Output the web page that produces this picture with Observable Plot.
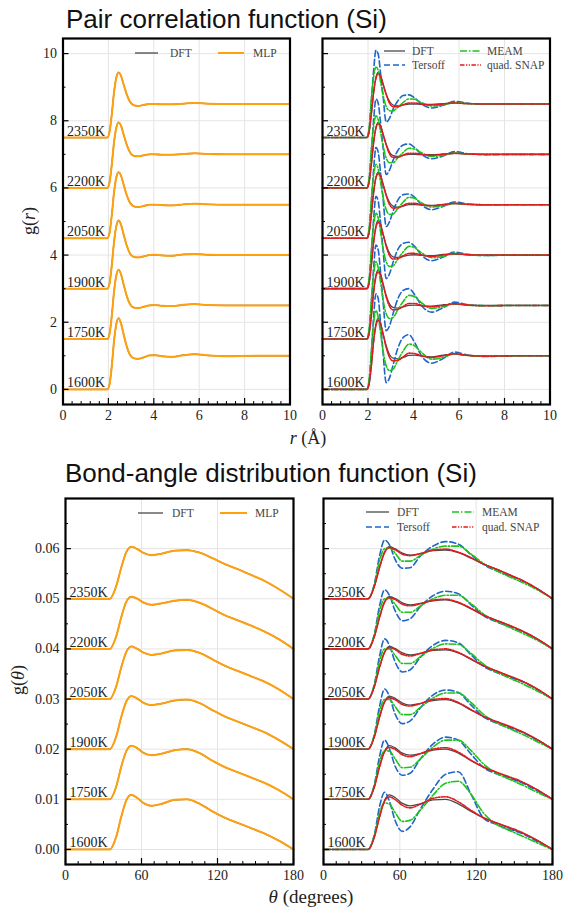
<!DOCTYPE html>
<html><head><meta charset="utf-8">
<script src="https://cdn.jsdelivr.net/npm/d3@7"></script>
<script src="https://cdn.jsdelivr.net/npm/@observablehq/plot@0.6"></script>
<style>
body{margin:0;background:#fff;}
#wrap{position:relative;width:565px;height:909px;overflow:hidden;background:#fff;}
#wrap > svg{position:absolute;}
</style></head><body><div id="wrap"></div>
<script>
// ---------- data ----------
const temps = ["1600K","1750K","1900K","2050K","2200K","2350K"];
const grOffsets = [0, 1.5, 3, 4.5, 6, 7.5];
const gtOffsets = [0, 0.01, 0.02, 0.03, 0.04, 0.05];

const rGrid = [0,1.95,2.05,2.15,2.25,2.35,2.45,2.55,2.65,2.8,2.95,3.1,3.3,3.55,3.8,4.05,4.35,4.8,5.3,5.8,6.4,7.2,8.5,10];
const grDFT = [
 [0,0,0.15,0.7,1.45,1.95,2.12,1.98,1.7,1.3,1.03,0.93,0.91,0.95,1.01,1.02,0.99,0.97,1.02,1.05,1.01,0.99,1.0,1.0],
 [0,0,0.15,0.7,1.42,1.9,2.06,1.94,1.68,1.3,1.04,0.94,0.92,0.96,1.0,1.01,0.99,0.98,1.02,1.04,1.01,1.0,1.0,1.0],
 [0,0,0.16,0.7,1.4,1.87,2.03,1.92,1.67,1.3,1.05,0.95,0.93,0.96,1.0,1.01,0.99,0.98,1.02,1.03,1.01,1.0,1.0,1.0],
 [0,0,0.16,0.7,1.38,1.82,1.97,1.88,1.65,1.3,1.06,0.96,0.93,0.96,1.0,1.0,0.99,0.98,1.01,1.03,1.01,1.0,1.0,1.0],
 [0,0,0.16,0.7,1.37,1.8,1.95,1.86,1.64,1.3,1.06,0.96,0.94,0.97,1.0,1.0,0.99,0.99,1.01,1.03,1.01,1.0,1.0,1.0],
 [0,0,0.17,0.7,1.36,1.79,1.94,1.85,1.63,1.3,1.07,0.97,0.94,0.97,1.0,1.0,0.99,0.99,1.01,1.03,1.01,1.0,1.0,1.0]];
const grMLP = [
 [0,0,0.15,0.7,1.45,1.95,2.12,1.98,1.7,1.3,1.03,0.93,0.91,0.95,1.01,1.02,0.99,0.97,1.02,1.05,1.01,0.99,1.0,1.0],
 [0,0,0.15,0.7,1.42,1.9,2.06,1.94,1.68,1.3,1.04,0.94,0.92,0.96,1.0,1.01,0.99,0.98,1.02,1.04,1.01,1.0,1.0,1.0],
 [0,0,0.16,0.7,1.4,1.87,2.03,1.92,1.67,1.3,1.05,0.95,0.93,0.96,1.0,1.01,0.99,0.98,1.02,1.03,1.01,1.0,1.0,1.0],
 [0,0,0.16,0.7,1.38,1.82,1.97,1.88,1.65,1.3,1.06,0.96,0.93,0.96,1.0,1.0,0.99,0.98,1.01,1.03,1.01,1.0,1.0,1.0],
 [0,0,0.16,0.7,1.37,1.8,1.95,1.86,1.64,1.3,1.06,0.96,0.94,0.97,1.0,1.0,0.99,0.99,1.01,1.03,1.01,1.0,1.0,1.0],
 [0,0,0.17,0.7,1.36,1.79,1.94,1.85,1.63,1.3,1.07,0.97,0.94,0.97,1.0,1.0,0.99,0.99,1.01,1.03,1.01,1.0,1.0,1.0]];
const grTersoff = [
 [0,0,0.25,1.1,2.2,2.85,2.7,2.0,1.2,0.2,0.35,0.72,1.2,1.55,1.63,1.4,1.0,0.78,0.92,1.11,1.02,0.98,1.0,1.0],
 [0,0,0.25,1.1,2.15,2.8,2.65,2.0,1.22,0.25,0.4,0.75,1.18,1.45,1.5,1.32,1.0,0.8,0.93,1.1,1.02,0.99,1.0,1.0],
 [0,0,0.25,1.1,2.1,2.75,2.6,1.98,1.25,0.3,0.45,0.78,1.15,1.35,1.38,1.26,1.0,0.83,0.94,1.09,1.02,0.99,1.0,1.0],
 [0,0,0.25,1.1,2.08,2.7,2.56,1.96,1.27,0.35,0.5,0.8,1.12,1.3,1.32,1.22,1.0,0.85,0.95,1.08,1.02,0.99,1.0,1.0],
 [0,0,0.25,1.1,2.05,2.65,2.52,1.95,1.3,0.4,0.54,0.82,1.1,1.28,1.31,1.2,1.0,0.87,0.95,1.08,1.02,0.99,1.0,1.0],
 [0,0,0.25,1.1,2.02,2.6,2.48,1.93,1.32,0.46,0.58,0.84,1.08,1.25,1.27,1.18,1.0,0.88,0.96,1.08,1.02,0.99,1.0,1.0]];
const grMEAM = [
 [0,0,0.3,1.2,2.0,2.35,2.15,1.7,1.2,0.7,0.56,0.6,0.85,1.15,1.35,1.3,1.1,0.9,0.95,1.06,1.01,0.99,1.0,1.0],
 [0,0,0.3,1.2,1.95,2.3,2.12,1.7,1.22,0.75,0.61,0.64,0.86,1.12,1.3,1.26,1.08,0.91,0.96,1.05,1.01,0.99,1.0,1.0],
 [0,0,0.3,1.2,1.92,2.25,2.1,1.7,1.25,0.8,0.66,0.68,0.87,1.1,1.26,1.22,1.07,0.92,0.96,1.05,1.01,0.99,1.0,1.0],
 [0,0,0.3,1.2,1.88,2.2,2.06,1.68,1.27,0.85,0.71,0.72,0.88,1.08,1.22,1.19,1.06,0.93,0.97,1.04,1.01,1.0,1.0,1.0],
 [0,0,0.3,1.2,1.85,2.15,2.03,1.67,1.29,0.89,0.75,0.75,0.89,1.06,1.18,1.16,1.05,0.94,0.97,1.04,1.01,1.0,1.0,1.0],
 [0,0,0.3,1.2,1.82,2.1,2.0,1.66,1.3,0.92,0.8,0.79,0.9,1.05,1.15,1.14,1.04,0.94,0.97,1.04,1.01,1.0,1.0,1.0]];
const grSNAP = [
 [0,0,0.18,0.75,1.45,1.9,2.05,1.95,1.68,1.25,0.95,0.85,0.86,0.97,1.08,1.07,1.0,0.95,1.0,1.06,1.01,0.99,1.0,1.0],
 [0,0,0.18,0.75,1.42,1.86,2.0,1.92,1.66,1.25,0.97,0.87,0.88,0.97,1.06,1.06,1.0,0.96,1.0,1.05,1.01,0.99,1.0,1.0],
 [0,0,0.18,0.75,1.4,1.83,1.97,1.9,1.65,1.26,0.98,0.88,0.89,0.98,1.05,1.05,1.0,0.96,1.0,1.04,1.01,1.0,1.0,1.0],
 [0,0,0.18,0.75,1.38,1.8,1.93,1.86,1.63,1.27,1.0,0.9,0.9,0.98,1.04,1.04,1.0,0.97,1.0,1.04,1.01,1.0,1.0,1.0],
 [0,0,0.18,0.75,1.37,1.78,1.91,1.84,1.62,1.28,1.01,0.91,0.91,0.98,1.03,1.03,1.0,0.97,1.0,1.03,1.01,1.0,1.0,1.0],
 [0,0,0.18,0.75,1.36,1.76,1.9,1.83,1.61,1.28,1.02,0.92,0.92,0.98,1.03,1.03,1.0,0.97,1.0,1.03,1.01,1.0,1.0,1.0]];

const tGrid = [0,35,40,44,48,52,56,62,68,76,86,96,106,116,126,136,146,156,168,180];
const gtDFT = [
 [0,0,0.0025,0.0065,0.0098,0.0109,0.0104,0.0092,0.0087,0.0091,0.0099,0.0100,0.0091,0.0076,0.0063,0.0053,0.0043,0.0033,0.0018,0],
 [0,0,0.0025,0.0065,0.0096,0.0107,0.0103,0.0092,0.0088,0.0091,0.0098,0.0100,0.0092,0.0077,0.0064,0.0054,0.0044,0.0034,0.0019,0],
 [0,0,0.0025,0.0064,0.0095,0.0106,0.0102,0.0092,0.0088,0.0091,0.0097,0.0099,0.0092,0.0078,0.0065,0.0055,0.0045,0.0035,0.0019,0],
 [0,0,0.0025,0.0063,0.0094,0.0105,0.0101,0.0092,0.0088,0.0091,0.0097,0.0098,0.0092,0.0079,0.0066,0.0056,0.0046,0.0036,0.0020,0],
 [0,0,0.0025,0.0063,0.0094,0.0104,0.0101,0.0092,0.0088,0.0091,0.0096,0.0098,0.0092,0.0080,0.0067,0.0057,0.0047,0.0036,0.0020,0],
 [0,0,0.0025,0.0062,0.0093,0.0104,0.0100,0.0091,0.0087,0.0090,0.0096,0.0097,0.0092,0.0081,0.0069,0.0059,0.0048,0.0037,0.0020,0]];
const gtMLP = [
 [0,0,0.0025,0.0065,0.0098,0.0109,0.0104,0.0092,0.0087,0.0091,0.0099,0.0100,0.0091,0.0076,0.0063,0.0053,0.0043,0.0033,0.0018,0],
 [0,0,0.0025,0.0065,0.0096,0.0107,0.0103,0.0092,0.0088,0.0091,0.0098,0.0100,0.0092,0.0077,0.0064,0.0054,0.0044,0.0034,0.0019,0],
 [0,0,0.0025,0.0064,0.0095,0.0106,0.0102,0.0092,0.0088,0.0091,0.0097,0.0099,0.0092,0.0078,0.0065,0.0055,0.0045,0.0035,0.0019,0],
 [0,0,0.0025,0.0063,0.0094,0.0105,0.0101,0.0092,0.0088,0.0091,0.0097,0.0098,0.0092,0.0079,0.0066,0.0056,0.0046,0.0036,0.0020,0],
 [0,0,0.0025,0.0063,0.0094,0.0104,0.0101,0.0092,0.0088,0.0091,0.0096,0.0098,0.0092,0.0080,0.0067,0.0057,0.0047,0.0036,0.0020,0],
 [0,0,0.0025,0.0062,0.0093,0.0104,0.0100,0.0091,0.0087,0.0090,0.0096,0.0097,0.0092,0.0081,0.0069,0.0059,0.0048,0.0037,0.0020,0]];
const gtTersoff = [
 [0,0,0.0030,0.0085,0.0114,0.0095,0.0060,0.0036,0.0045,0.0080,0.0120,0.0150,0.0155,0.0110,0.0062,0.0050,0.0040,0.0032,0.0016,0],
 [0,0,0.0030,0.0085,0.0118,0.0100,0.0068,0.0048,0.0052,0.0080,0.0110,0.0124,0.0118,0.0090,0.0063,0.0051,0.0042,0.0033,0.0017,0],
 [0,0,0.0030,0.0085,0.0120,0.0104,0.0072,0.0051,0.0056,0.0082,0.0108,0.0118,0.0113,0.0088,0.0064,0.0052,0.0043,0.0034,0.0018,0],
 [0,0,0.0030,0.0085,0.0120,0.0106,0.0076,0.0054,0.0058,0.0083,0.0107,0.0117,0.0112,0.0088,0.0065,0.0053,0.0044,0.0035,0.0019,0],
 [0,0,0.0030,0.0085,0.0118,0.0106,0.0078,0.0056,0.0060,0.0084,0.0106,0.0115,0.0110,0.0088,0.0066,0.0054,0.0045,0.0035,0.0019,0],
 [0,0,0.0030,0.0085,0.0117,0.0107,0.0080,0.0061,0.0062,0.0085,0.0105,0.0114,0.0109,0.0088,0.0068,0.0056,0.0046,0.0036,0.0020,0]];
const gtMEAM = [
 [0,0,0.0028,0.0072,0.0093,0.0090,0.0075,0.0056,0.0058,0.0078,0.0108,0.0132,0.0136,0.0110,0.0072,0.0050,0.0038,0.0027,0.0013,0],
 [0,0,0.0028,0.0074,0.0097,0.0096,0.0082,0.0063,0.0064,0.0080,0.0104,0.0118,0.0118,0.0097,0.0070,0.0052,0.0040,0.0029,0.0014,0],
 [0,0,0.0028,0.0075,0.0099,0.0099,0.0086,0.0069,0.0069,0.0083,0.0102,0.0112,0.0112,0.0093,0.0069,0.0053,0.0041,0.0030,0.0015,0],
 [0,0,0.0028,0.0075,0.0100,0.0100,0.0088,0.0071,0.0071,0.0084,0.0101,0.0110,0.0109,0.0091,0.0069,0.0054,0.0042,0.0031,0.0016,0],
 [0,0,0.0028,0.0075,0.0100,0.0101,0.0090,0.0073,0.0073,0.0085,0.0100,0.0107,0.0107,0.0090,0.0069,0.0055,0.0043,0.0032,0.0017,0],
 [0,0,0.0028,0.0075,0.0100,0.0102,0.0092,0.0075,0.0075,0.0086,0.0099,0.0105,0.0105,0.0089,0.0070,0.0056,0.0044,0.0033,0.0018,0]];
const gtSNAP = [
 [0,0,0.0025,0.0064,0.0096,0.0105,0.0100,0.0088,0.0083,0.0090,0.0102,0.0105,0.0095,0.0078,0.0063,0.0053,0.0044,0.0034,0.0018,0],
 [0,0,0.0025,0.0064,0.0095,0.0104,0.0100,0.0089,0.0085,0.0091,0.0100,0.0103,0.0094,0.0078,0.0064,0.0054,0.0045,0.0035,0.0019,0],
 [0,0,0.0025,0.0063,0.0094,0.0103,0.0099,0.0089,0.0086,0.0091,0.0099,0.0101,0.0093,0.0079,0.0065,0.0055,0.0046,0.0035,0.0019,0],
 [0,0,0.0025,0.0063,0.0093,0.0103,0.0099,0.0089,0.0086,0.0091,0.0098,0.0100,0.0093,0.0080,0.0066,0.0056,0.0046,0.0036,0.0020,0],
 [0,0,0.0025,0.0062,0.0093,0.0102,0.0099,0.0089,0.0086,0.0090,0.0097,0.0099,0.0093,0.0081,0.0067,0.0057,0.0047,0.0036,0.0020,0],
 [0,0,0.0025,0.0062,0.0092,0.0102,0.0098,0.0089,0.0086,0.0090,0.0097,0.0099,0.0093,0.0082,0.0069,0.0059,0.0048,0.0037,0.0020,0]];

const rTicks = [0,2,4,6,8,10];
const rMinor = [0.4,0.8,1.2,1.6,2.4,2.8,3.2,3.6,4.4,4.8,5.2,5.6,6.4,6.8,7.2,7.6,8.4,8.8,9.2,9.6];
const grTicks = [0,2,4,6,8,10];
const grMinor = [1,3,5,7,9];
const tTicks = [0,60,120,180];
const tMinor = [10,20,30,40,50,70,80,90,100,110,130,140,150,160,170];
const gtTicks = [0,0.01,0.02,0.03,0.04,0.05,0.06];
const gtMinor = [0.005,0.015,0.025,0.035,0.045,0.055,0.065];

// ---------- styles ----------
const ST = {
  DFT:     {stroke: "#4a4a4a", strokeWidth: 1.3},
  MLP:     {stroke: "#ffa00f", strokeWidth: 2.0},
  Tersoff: {stroke: "#1f66c8", strokeWidth: 1.6, strokeDasharray: "6,3"},
  MEAM:    {stroke: "#1cc41c", strokeWidth: 1.6, strokeDasharray: "7,2,1.5,2"},
  SNAP:    {stroke: "#e5191c", strokeWidth: 1.6, strokeDasharray: "4.5,1.5,1.2,1.5,1.2,1.5"}
};

function series(grid, rows, offsets) {
  return rows.flatMap((row, i) => row.map((v, j) => ({T: temps[i], x: grid[j], y: v + offsets[i]})));
}

const wrap = document.getElementById("wrap");
const serif = "'Liberation Serif', 'Times New Roman', serif";

function panel({left, top, width, height, mt, mb, ml, mr, xdom, ydom, xt, xm, yt, ym, ylabels, yfmt, models, grid, offsets}) {
  const innerW = width - ml - mr, innerH = height - mt - mb;
  const marks = [
    Plot.ruleX(xt.filter(d => d !== xdom[0] && d !== xdom[1]), {x: d => d, stroke: "#e4e4e4", strokeWidth: 1}),
    Plot.ruleY(yt, {y: d => d, stroke: "#e4e4e4", strokeWidth: 1}),
  ];
  for (const [name, rows] of models) {
    marks.push(Plot.line(series(grid, rows, offsets), {x: "x", y: "y", z: "T", curve: "monotone-x", ...ST[name]}));
  }
  marks.push(
    Plot.text(temps.map((t, i) => ({t, y: offsets[i]})), {y: "y", text: "t", frameAnchor: "left", textAnchor: "start", lineAnchor: "bottom", dx: 4, dy: -2, fontSize: 14, fill: "#222"}),
    Plot.tickX(xm, {x: d => d, insetTop: innerH - 3, stroke: "#000", strokeWidth: 1}),
    Plot.tickX(xt, {x: d => d, insetTop: innerH - 6, stroke: "#000", strokeWidth: 1.2}),
    Plot.tickY(ym, {y: d => d, insetRight: innerW - 3, stroke: "#000", strokeWidth: 1}),
    Plot.tickY(yt, {y: d => d, insetRight: innerW - 6, stroke: "#000", strokeWidth: 1.2}),
    Plot.frame({stroke: "#000", strokeWidth: 2.2})
  );
  const svg = Plot.plot({
    width, height, marginTop: mt, marginBottom: mb, marginLeft: ml, marginRight: mr,
    style: {fontFamily: serif, fontSize: "14px", color: "#222", background: "transparent", overflow: "visible"},
    x: {domain: xdom, ticks: xt, tickSize: 0, tickPadding: 6, label: null, tickFormat: d => String(d)},
    y: ylabels ? {domain: ydom, ticks: yt, tickSize: 0, tickPadding: 6, label: null, tickFormat: yfmt}
               : {domain: ydom, axis: null},
    marks
  });
  svg.style.left = left + "px";
  svg.style.top = top + "px";
  wrap.appendChild(svg);
}

// top row: g(r)
panel({left: 0, top: 30, width: 300, height: 420, mt: 8, mb: 46, ml: 62.5, mr: 10.5,
  xdom: [0, 10], ydom: [-0.45, 10.45], xt: rTicks, xm: rMinor, yt: grTicks, ym: grMinor, ylabels: true, yfmt: d => String(d),
  models: [["DFT", grDFT], ["MLP", grMLP]], grid: rGrid, offsets: grOffsets});
panel({left: 300, top: 30, width: 265, height: 420, mt: 8, mb: 46, ml: 22, mr: 15.5,
  xdom: [0, 10], ydom: [-0.45, 10.45], xt: rTicks, xm: rMinor, yt: grTicks, ym: grMinor, ylabels: false,
  models: [["DFT", grDFT], ["Tersoff", grTersoff], ["MEAM", grMEAM], ["SNAP", grSNAP]], grid: rGrid, offsets: grOffsets});
// bottom row: g(theta)
panel({left: 0, top: 490, width: 300, height: 400, mt: 8, mb: 26, ml: 65, mr: 7,
  xdom: [0, 180], ydom: [-0.003, 0.07], xt: tTicks, xm: tMinor, yt: gtTicks, ym: gtMinor, ylabels: true, yfmt: d3.format(".2f"),
  models: [["DFT", gtDFT], ["MLP", gtMLP]], grid: tGrid, offsets: gtOffsets});
panel({left: 300, top: 490, width: 265, height: 400, mt: 8, mb: 26, ml: 23, mr: 13,
  xdom: [0, 180], ydom: [-0.003, 0.07], xt: tTicks, xm: tMinor, yt: gtTicks, ym: gtMinor, ylabels: false,
  models: [["DFT", gtDFT], ["Tersoff", gtTersoff], ["MEAM", gtMEAM], ["SNAP", gtSNAP]], grid: tGrid, offsets: gtOffsets});

// ---------- overlay: titles, axis labels, legends ----------
const ov = d3.select(wrap).append("svg").attr("width", 565).attr("height", 909)
  .style("left", "0px").style("top", "0px").style("pointer-events", "none");
const sans = "'Liberation Sans', Arial, sans-serif";
ov.append("text").attr("x", 66).attr("y", 28).attr("font-family", sans).attr("font-size", 26).attr("fill", "#111")
  .text("Pair correlation function (Si)");
ov.append("text").attr("x", 65).attr("y", 482).attr("font-family", sans).attr("font-size", 26).attr("fill", "#111")
  .text("Bond-angle distribution function (Si)");

function mathLabel(x, y, parts, rotate, size) {
  const t = ov.append("text").attr("font-family", serif).attr("font-size", size).attr("fill", "#222")
    .attr("text-anchor", "middle").attr("dominant-baseline", "central")
    .attr("transform", `translate(${x},${y})` + (rotate ? " rotate(-90)" : ""));
  for (const [s, it] of parts) t.append("tspan").attr("font-style", it ? "italic" : "normal").text(s);
}
mathLabel(29, 221, [["g(", false], ["r", true], [")", false]], true, 18);
mathLabel(18, 680, [["g(", false], ["θ", true], [")", false]], true, 18);
mathLabel(308, 438, [["r", true], [" (Å)", false]], false, 18);
mathLabel(311, 896, [["θ", true], [" (degrees)", false]], false, 19);

function legendItem(x1, x2, y, tx, name, label) {
  const s = ST[name];
  ov.append("line").attr("x1", x1).attr("x2", x2).attr("y1", y).attr("y2", y)
    .attr("stroke", s.stroke).attr("stroke-width", s.strokeWidth).attr("stroke-dasharray", s.strokeDasharray || null);
  ov.append("text").attr("x", tx).attr("y", y).attr("dominant-baseline", "central")
    .attr("font-family", serif).attr("font-size", 11.5).attr("fill", "#444").text(label);
}
legendItem(135, 158, 53, 170, "DFT", "DFT");
legendItem(218, 244, 53, 253, "MLP", "MLP");
legendItem(384, 405, 51, 412, "DFT", "DFT");
legendItem(384, 405, 65, 412, "Tersoff", "Tersoff");
legendItem(460, 481, 51, 487, "MEAM", "MEAM");
legendItem(460, 481, 65, 487, "SNAP", "quad. SNAP");
legendItem(138, 163, 513, 172, "DFT", "DFT");
legendItem(220, 247, 513, 255, "MLP", "MLP");
legendItem(366, 389, 512, 397, "DFT", "DFT");
legendItem(366, 389, 527, 397, "Tersoff", "Tersoff");
legendItem(452, 474, 512, 482, "MEAM", "MEAM");
legendItem(452, 474, 527, 482, "SNAP", "quad. SNAP");
</script></body></html>
